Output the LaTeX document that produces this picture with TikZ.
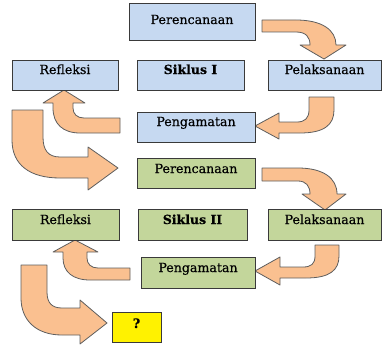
\documentclass[tikz,border=0pt]{standalone}
\usepackage{fontspec}
\setmainfont{DejaVu Serif}[FakeBold=0.5]
\definecolor{boxblue}{HTML}{C6D9F1}
\definecolor{boxgreen}{HTML}{C3D69B}
\definecolor{arroworange}{HTML}{FAC090}
\definecolor{boxline}{HTML}{3A3A3A}
\definecolor{arrowline}{HTML}{5E5E5E}
\begin{document}
\begin{tikzpicture}[x=1pt,y=-1pt,
  box/.style={draw=boxline, line width=0.9pt, inner xsep=0pt, inner ysep=0pt,
    font=\fontsize{12.6}{15}\selectfont},
  bluebox/.style={box, fill=boxblue},
  greenbox/.style={box, fill=boxgreen},
  cyclebox/.style={font=\fontsize{12.5}{15}\selectfont\bfseries},
  blockarrow/.style={fill=arroworange, draw=arrowline, line width=0.8pt, line join=round}]
\useasboundingbox (0,0) rectangle (382,345);

% block arrows
\draw[blockarrow] (262,20) -- (296,20) .. controls (322,20) and (336,30) .. (336,45) -- (346,45) -- (324,59) -- (300,45) -- (310,45) .. controls (310,37) and (306,32) .. (296,32) -- (262,32) -- cycle;
\draw[blockarrow] (309,97) -- (309,110) .. controls (309,118) and (305,122) .. (297,122) -- (279,122) -- (279,113) -- (255,126) -- (279,139) -- (279,133) -- (300,133) .. controls (324,133) and (334,125) .. (334,110) -- (334,97) -- cycle;
\draw[blockarrow] (120,118) -- (84,118) .. controls (77,118) and (73,114) .. (73,108) -- (73,103) -- (85,103) -- (64,90) -- (43,103) -- (53,103) -- (53,108) .. controls (53,124) and (63,133) .. (80,133) -- (120,133) -- cycle;
\draw[blockarrow] (12,110) -- (43,110) -- (43,137) .. controls (43,150) and (48,157) .. (60,157) -- (88,157) -- (88,147) -- (118,168) -- (88,190) -- (88,178) -- (60,178) .. controls (30,178) and (12,165) .. (12,140) -- cycle;
\draw[blockarrow] (262,168) -- (298,168) .. controls (323,168) and (337,178) .. (337,194) -- (346,194) -- (325,210) -- (302,194) -- (310,194) .. controls (310,186) and (306,181) .. (298,181) -- (262,181) -- cycle;
\draw[blockarrow] (315,245) -- (315,256) .. controls (315,264) and (311,267) .. (303,267) -- (280,267) -- (280,257) -- (255,271) -- (280,285) -- (280,278) -- (306,278) .. controls (330,278) and (339,270) .. (339,256) -- (339,245) -- cycle;
\draw[blockarrow] (130,268) -- (98,268) .. controls (91,268) and (87,264) .. (87,258) -- (87,252) -- (98,252) -- (75,240) -- (53,252) -- (63,252) -- (63,258) .. controls (63,272) and (73,280) .. (90,280) -- (130,280) -- cycle;
\draw[blockarrow] (21,265) -- (47,265) -- (47,292) .. controls (47,303) and (52,308) .. (62,308) -- (80,308) -- (80,300) -- (107,323) -- (80,344) -- (80,335) -- (62,335) .. controls (36,335) and (21,320) .. (21,298) -- cycle;

% cycle I
\node[bluebox, minimum width=126pt, minimum height=37pt, text height=21pt, text depth=16pt] (p1) at (192,21.5) {Perencanaan};
\node[bluebox, minimum width=106pt, minimum height=30pt, text height=14pt, text depth=16pt] (r1) at (65,75) {Refleksi};
\node[bluebox, cyclebox, minimum width=107pt, minimum height=30pt, text height=14pt, text depth=16pt] (s1) at (190.5,75) {Siklus I};
\node[bluebox, minimum width=113pt, minimum height=30pt, text height=14pt, text depth=16pt] (l1) at (324.5,75) {Pelaksanaan};
\node[bluebox, minimum width=118pt, minimum height=30pt, text height=14pt, text depth=16pt] (g1) at (196,127) {Pengamatan};

% cycle II
\node[greenbox, minimum width=118pt, minimum height=30pt, text height=15pt, text depth=15pt] (p2) at (196,173) {Perencanaan};
\node[greenbox, minimum width=107pt, minimum height=31pt, text height=15pt, text depth=16pt] (r2) at (65.5,224.5) {Refleksi};
\node[greenbox, cyclebox, minimum width=109pt, minimum height=31pt, text height=15pt, text depth=16pt] (s2) at (192.5,224.5) {Siklus II};
\node[greenbox, minimum width=113pt, minimum height=31pt, text height=15pt, text depth=16pt] (l2) at (324.5,224.5) {Pelaksanaan};
\node[greenbox, minimum width=114pt, minimum height=31pt, text height=15pt, text depth=16pt] (g2) at (198,272.5) {Pengamatan};

% result
\node[box, fill=yellow, font=\fontsize{13}{15}\selectfont\bfseries, minimum width=49pt, minimum height=30pt, text height=16pt, text depth=14pt] (q) at (136.5,327) {?};
\end{tikzpicture}
\end{document}
